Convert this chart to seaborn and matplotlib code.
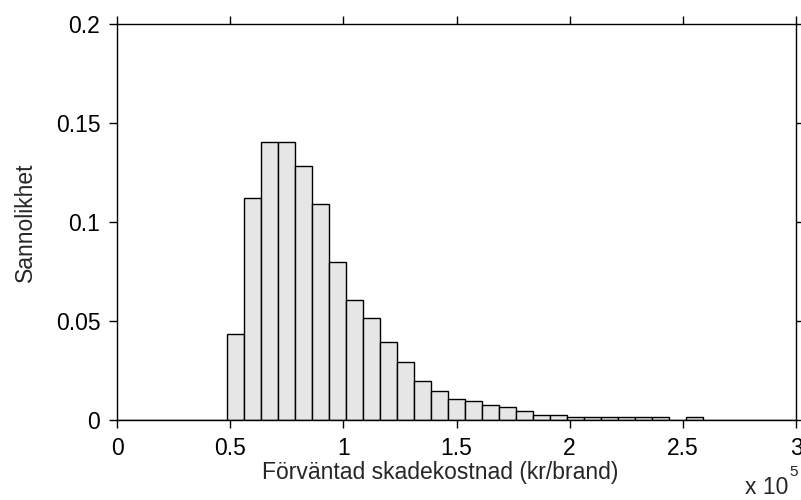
import numpy as np
import pandas as pd
import matplotlib
matplotlib.use("Agg")
import matplotlib.pyplot as plt
import seaborn as sns

# ---- data ----
bin_width = 7500
bin_centers = [k * 7500 for k in range(0, 41)]
probabilities = [0, 0, 0, 0, 0, 0, 0,
                 0.0436, 0.1121, 0.1404, 0.1404, 0.1283, 0.1091, 0.0799,
                 0.0607, 0.0516, 0.0396, 0.0295, 0.0195, 0.0145, 0.0104,
                 0.0094, 0.0074, 0.0064, 0.0044, 0.0024, 0.0024, 0.0014,
                 0.0014, 0.0014, 0.0014, 0.0014, 0.0014, 0.0, 0.0014,
                 0, 0, 0, 0, 0, 0]
x_ticks = [0, 50000, 100000, 150000, 200000, 250000, 300000]
x_tick_labels = ["0", "0.5", "1", "1.5", "2", "2.5", "3"]
y_ticks = [0, 0.05, 0.1, 0.15, 0.2]
y_tick_labels = ["0", "0.05", "0.1", "0.15", "0.2"]
x_label = "Förväntad skadekostnad (kr/brand)"
y_label = "Sannolikhet"

sns.set_theme(style="white")
plt.rcParams["font.family"] = ["Liberation Sans", "DejaVu Sans"]

fs = 16.5
fig = plt.figure(figsize=(8.01, 5.0), dpi=100)
ax = fig.add_axes([117 / 801, 1 - 420 / 500, (796 - 117) / 801, (420 - 24) / 500])

df = pd.DataFrame({"x": bin_centers, "p": probabilities})
edges = [c - bin_width / 2 for c in bin_centers] + [bin_centers[-1] + bin_width / 2]
sns.histplot(data=df, x="x", weights="p", bins=edges, stat="count",
             color="#e6e6e6", alpha=1.0, edgecolor="black", linewidth=1.0, ax=ax)

ax.set_xlim(0, 300000)
ax.set_ylim(0, 0.2)
ax.set_xticks(x_ticks)
ax.set_xticklabels(x_tick_labels)
ax.set_yticks(y_ticks)
ax.set_yticklabels(y_tick_labels)
ax.set_xlabel(x_label, fontsize=fs)
ax.set_ylabel(y_label, fontsize=fs)
ax.xaxis.set_label_coords((440 - 117) / 679, (420 - 461) / 396)
ax.yaxis.set_label_coords((37 - 117) / 679, 0.5)

for s in ax.spines.values():
    s.set_visible(True)
    s.set_color("black")
    s.set_linewidth(1.0)

ax.tick_params(axis="both", which="both", direction="out", length=6, width=1,
               colors="black", labelsize=fs, pad=6,
               top=True, right=True, bottom=True, left=True,
               labeltop=False, labelright=False)
ax.grid(False)

fig.text(745 / 801, 1 - 494 / 500, "x 10", fontsize=fs, ha="left", va="baseline")
fig.text(789 / 801, 1 - 476 / 500, "5", fontsize=11, ha="left", va="baseline")

fig.savefig("out.png", dpi=100, facecolor="white")
